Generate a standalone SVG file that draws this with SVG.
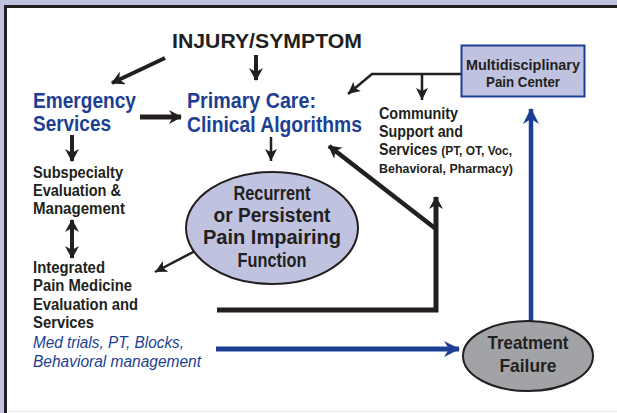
<svg xmlns="http://www.w3.org/2000/svg" width="617" height="413" viewBox="0 0 617 413">
  <style>
    .t { font-family: "Liberation Sans", Arial, sans-serif; font-weight: bold; fill: #231f20; }
    .b { fill: #1c3f94; }
    .i { font-style: italic; font-weight: normal; }
    .ln { stroke: #231f20; fill: none; }
    .bl { stroke: #1c3f94; fill: none; }
  </style>
  <defs>
    <marker id="ah" markerUnits="userSpaceOnUse" markerWidth="16" markerHeight="16" refX="12" refY="7" orient="auto-start-reverse">
      <path d="M0,0 L13,7 L0,14 L4,7 Z" fill="#231f20"/>
    </marker>
    <marker id="ahs" markerUnits="userSpaceOnUse" markerWidth="16" markerHeight="16" refX="12" refY="6" orient="auto">
      <path d="M0,0 L12,6 L0,12 L3,6 Z" fill="#231f20"/>
    </marker>
    <marker id="ahb" markerUnits="userSpaceOnUse" markerWidth="20" markerHeight="20" refX="15" refY="8" orient="auto">
      <path d="M0,0 L16,8 L0,16 L5,8 Z" fill="#1c3f94"/>
    </marker>
  </defs>

  <!-- frame -->
  <rect x="0" y="0" width="617" height="413" fill="#c0c3e0"/>
  <rect x="5.5" y="6.5" width="615" height="410" fill="#ffffff" stroke="#231f20" stroke-width="3"/>
  <line x1="7" y1="411.5" x2="617" y2="411.5" stroke="#e6e6e8" stroke-width="1"/>

  <!-- connectors -->
  <g id="connectors">
    <line class="ln" x1="165" y1="58" x2="112" y2="83" stroke-width="4" marker-end="url(#ah)"/>
    <line class="ln" x1="256" y1="55" x2="256" y2="80" stroke-width="4" marker-end="url(#ah)"/>
    <line class="ln" x1="140" y1="117" x2="181" y2="117" stroke-width="5" marker-end="url(#ah)"/>
    <line class="ln" x1="72" y1="135" x2="72" y2="161" stroke-width="4" marker-end="url(#ah)"/>
    <line class="ln" x1="271" y1="137" x2="271" y2="161" stroke-width="2.5" marker-end="url(#ahs)"/>
    <line class="ln" x1="72" y1="220" x2="72" y2="258" stroke-width="4" marker-start="url(#ah)" marker-end="url(#ah)"/>
    <line class="ln" x1="197" y1="250" x2="155" y2="272" stroke-width="2.5" marker-end="url(#ahs)"/>
    <polyline class="ln" points="461,74 372,74 348,94" stroke-width="2.5" marker-end="url(#ahs)"/>
    <line class="ln" x1="422" y1="74" x2="422" y2="100" stroke-width="2.5" marker-end="url(#ahs)"/>
    <polyline class="ln" points="217,310 436,310 436,197" stroke-width="5" stroke-linejoin="miter" marker-end="url(#ah)"/>
    <line class="ln" x1="436" y1="229" x2="329" y2="146" stroke-width="4.5" marker-end="url(#ah)"/>
    <line class="bl" x1="216" y1="349" x2="459" y2="349" stroke-width="5" marker-end="url(#ahb)"/>
    <line class="bl" x1="531" y1="322" x2="531" y2="109" stroke-width="4.5" marker-end="url(#ahb)"/>
  </g>

  <g id="injury">
    <text class="t" x="172" y="48" font-size="20.5" textLength="190" lengthAdjust="spacingAndGlyphs">INJURY/SYMPTOM</text>
  </g>

  <g id="emergency">
    <text class="t b" x="33" y="108" font-size="21.5" textLength="103" lengthAdjust="spacingAndGlyphs">Emergency</text>
    <text class="t b" x="33" y="131" font-size="21.5" textLength="78" lengthAdjust="spacingAndGlyphs">Services</text>
  </g>

  <g id="primary-care">
    <text class="t b" x="187" y="108" font-size="21.5" textLength="129" lengthAdjust="spacingAndGlyphs">Primary Care:</text>
    <text class="t b" x="187" y="132" font-size="21.5" textLength="175" lengthAdjust="spacingAndGlyphs">Clinical Algorithms</text>
  </g>

  <g id="pain-center">
    <rect x="461.5" y="45.5" width="123" height="51" fill="#c0c3e0" stroke="#1c3f94" stroke-width="2"/>
    <text class="t" x="523" y="70" font-size="15" text-anchor="middle" textLength="114" lengthAdjust="spacingAndGlyphs">Multidisciplinary</text>
    <text class="t" x="523" y="87" font-size="15" text-anchor="middle" textLength="74" lengthAdjust="spacingAndGlyphs">Pain Center</text>
  </g>

  <g id="community">
    <text class="t" x="379" y="119" font-size="16" textLength="79" lengthAdjust="spacingAndGlyphs">Community</text>
    <text class="t" x="379" y="137" font-size="16" textLength="84" lengthAdjust="spacingAndGlyphs">Support and</text>
    <text class="t" x="379" y="155" font-size="16" textLength="133" lengthAdjust="spacingAndGlyphs">Services <tspan font-size="13.5">(PT, OT, Voc,</tspan></text>
    <text class="t" x="379" y="173" font-size="13.5" textLength="134" lengthAdjust="spacingAndGlyphs">Behavioral, Pharmacy)</text>
  </g>

  <g id="subspecialty">
    <text class="t" x="33" y="178" font-size="16" textLength="90" lengthAdjust="spacingAndGlyphs">Subspecialty</text>
    <text class="t" x="33" y="196" font-size="16" textLength="88" lengthAdjust="spacingAndGlyphs">Evaluation &amp;</text>
    <text class="t" x="33" y="214" font-size="16" textLength="92" lengthAdjust="spacingAndGlyphs">Management</text>
  </g>

  <g id="recurrent">
    <ellipse cx="272" cy="228" rx="86" ry="56" fill="#c0c3e0" stroke="#231f20" stroke-width="2"/>
    <text class="t" x="272" y="200" font-size="19.5" text-anchor="middle" textLength="77" lengthAdjust="spacingAndGlyphs">Recurrent</text>
    <text class="t" x="272" y="222" font-size="19.5" text-anchor="middle" textLength="117" lengthAdjust="spacingAndGlyphs">or Persistent</text>
    <text class="t" x="272" y="244" font-size="19.5" text-anchor="middle" textLength="138" lengthAdjust="spacingAndGlyphs">Pain Impairing</text>
    <text class="t" x="272" y="267" font-size="19.5" text-anchor="middle" textLength="69" lengthAdjust="spacingAndGlyphs">Function</text>
  </g>

  <g id="integrated">
    <text class="t" x="33" y="273" font-size="16" textLength="72" lengthAdjust="spacingAndGlyphs">Integrated</text>
    <text class="t" x="33" y="291" font-size="16" textLength="99" lengthAdjust="spacingAndGlyphs">Pain Medicine</text>
    <text class="t" x="33" y="310" font-size="16" textLength="105" lengthAdjust="spacingAndGlyphs">Evaluation and</text>
    <text class="t" x="33" y="328" font-size="16" textLength="61" lengthAdjust="spacingAndGlyphs">Services</text>
    <text class="t b i" x="33" y="348" font-size="16" textLength="151" lengthAdjust="spacingAndGlyphs">Med trials, PT, Blocks,</text>
    <text class="t b i" x="33" y="367" font-size="16" textLength="168" lengthAdjust="spacingAndGlyphs">Behavioral management</text>
  </g>

  <g id="treatment-failure">
    <ellipse cx="528" cy="356" rx="65" ry="35" fill="#a2a3a7" stroke="#231f20" stroke-width="2"/>
    <text class="t" x="528" y="349" font-size="18.5" text-anchor="middle" textLength="81" lengthAdjust="spacingAndGlyphs">Treatment</text>
    <text class="t" x="528" y="372" font-size="18.5" text-anchor="middle" textLength="57" lengthAdjust="spacingAndGlyphs">Failure</text>
  </g>
</svg>
